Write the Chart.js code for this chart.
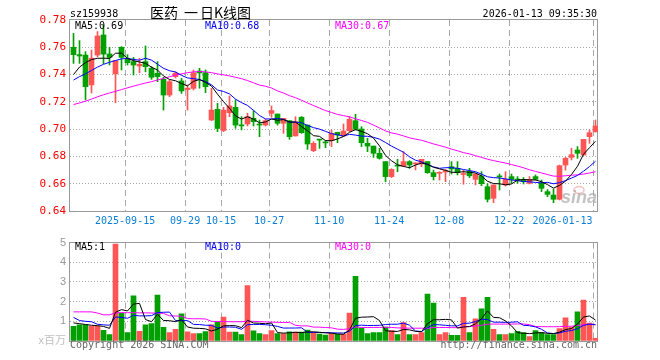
<!DOCTYPE html>
<html><head><meta charset="utf-8">
<script src="https://cdn.jsdelivr.net/npm/chart.js@4.4.1/dist/chart.umd.min.js"></script>
<style>
html,body{margin:0;padding:0;background:#fff;}
#wrap{position:relative;width:660px;height:360px;overflow:hidden;background:#fff;}
canvas{position:absolute;left:0;}
#c1{top:0}
#c2{top:232px}
</style></head><body>
<div id="wrap">
<canvas id="c1" width="660" height="232"></canvas>
<canvas id="c2" width="660" height="128"></canvas>
</div>
<script>
// ---------------- data ----------------
const stockCode = 'sz159938';
const chartTitleParts = ['医药', '一', '日K线图'];   // title: 医药 一 日K线图
const stamp = '2026-01-13 09:35:30';
const priceMaLabels = ['MA5:0.69', 'MA10:0.68', 'MA30:0.67'];
const volMaLabels = ['MA5:1', 'MA10:0', 'MA30:0'];

const dates = [
'2025-09-02','2025-09-03','2025-09-04','2025-09-05',
'2025-09-08','2025-09-09','2025-09-10','2025-09-11','2025-09-12',
'2025-09-15','2025-09-16','2025-09-17','2025-09-18','2025-09-19',
'2025-09-22','2025-09-23','2025-09-24','2025-09-25','2025-09-26',
'2025-09-29','2025-09-30','2025-10-09','2025-10-10',
'2025-10-13','2025-10-14','2025-10-15','2025-10-16','2025-10-17',
'2025-10-20','2025-10-21','2025-10-22','2025-10-23','2025-10-24',
'2025-10-27','2025-10-28','2025-10-29','2025-10-30','2025-10-31',
'2025-11-03','2025-11-04','2025-11-05','2025-11-06','2025-11-07',
'2025-11-10','2025-11-11','2025-11-12','2025-11-13','2025-11-14',
'2025-11-17','2025-11-18','2025-11-19','2025-11-20','2025-11-21',
'2025-11-24','2025-11-25','2025-11-26','2025-11-27','2025-11-28',
'2025-12-01','2025-12-02','2025-12-03','2025-12-04','2025-12-05',
'2025-12-08','2025-12-09','2025-12-10','2025-12-11','2025-12-12',
'2025-12-15','2025-12-16','2025-12-17','2025-12-18','2025-12-19',
'2025-12-22','2025-12-23','2025-12-24','2025-12-25','2025-12-26',
'2025-12-29','2025-12-30','2025-12-31',
'2026-01-05','2026-01-06','2026-01-07','2026-01-08','2026-01-09',
'2026-01-12','2026-01-13'];

const opens = [
0.7600,0.7546,0.7543,0.7324,0.7543,0.7690,0.7551,0.7405,0.7600,0.7512,
0.7495,0.7463,0.7495,0.7446,0.7410,0.7365,0.7250,0.7385,0.7353,0.7290,
0.7299,0.7426,0.7414,0.7067,0.7145,0.6990,0.7120,0.7160,0.7030,0.7038,
0.7079,0.7033,0.7030,0.7116,0.7111,0.7043,0.7062,0.6950,0.7087,0.7030,
0.6842,0.6922,0.6902,0.6916,0.6977,0.6950,0.6989,0.7062,0.7001,0.6896,
0.6876,0.6823,0.6762,0.6652,0.6731,0.6729,0.6762,0.6745,0.6745,0.6762,
0.6681,0.6676,0.6686,0.6725,0.6713,0.6667,0.6690,0.6632,0.6657,0.6578,
0.6493,0.6655,0.6591,0.6652,0.6632,0.6627,0.6603,0.6652,0.6603,0.6542,
0.6517,0.6486,0.6737,0.6793,0.6847,0.6810,0.6945,0.6982];
const highs = [
0.7702,0.7649,0.7568,0.7580,0.7715,0.7763,0.7600,0.7502,0.7605,0.7546,
0.7526,0.7519,0.7610,0.7458,0.7495,0.7380,0.7360,0.7421,0.7372,0.7324,
0.7434,0.7446,0.7434,0.7299,0.7189,0.7160,0.7243,0.7214,0.7092,0.7116,
0.7135,0.7067,0.7072,0.7170,0.7111,0.7079,0.7062,0.7091,0.7092,0.7030,
0.6908,0.6922,0.6916,0.6994,0.6977,0.7038,0.7092,0.7109,0.7018,0.6933,
0.6876,0.6859,0.6762,0.6710,0.6779,0.6835,0.6769,0.6754,0.6779,0.6762,
0.6700,0.6688,0.6705,0.6762,0.6762,0.6698,0.6713,0.6676,0.6689,0.6600,
0.6591,0.6671,0.6688,0.6671,0.6652,0.6645,0.6652,0.6664,0.6627,0.6557,
0.6561,0.6737,0.6793,0.6859,0.6872,0.6925,0.6994,0.7067];
const lows = [
0.7482,0.7482,0.7214,0.7265,0.7530,0.7480,0.7470,0.7194,0.7434,0.7470,
0.7397,0.7414,0.7420,0.7365,0.7348,0.7140,0.7238,0.7375,0.7262,0.7140,
0.7287,0.7300,0.7268,0.7062,0.6982,0.6982,0.7091,0.7006,0.6994,0.7023,
0.7023,0.6945,0.7023,0.7087,0.7030,0.6969,0.6925,0.6950,0.6969,0.6852,
0.6835,0.6859,0.6864,0.6872,0.6901,0.6945,0.6982,0.6994,0.6872,0.6835,
0.6793,0.6780,0.6615,0.6645,0.6688,0.6725,0.6713,0.6701,0.6725,0.6676,
0.6627,0.6627,0.6615,0.6671,0.6664,0.6596,0.6645,0.6591,0.6586,0.6466,
0.6461,0.6554,0.6583,0.6603,0.6603,0.6598,0.6598,0.6627,0.6542,0.6505,
0.6461,0.6481,0.6700,0.6774,0.6786,0.6810,0.6896,0.6977];
const closes = [
0.7546,0.7536,0.7311,0.7520,0.7683,0.7550,0.7526,0.7502,0.7526,0.7487,
0.7470,0.7475,0.7458,0.7380,0.7385,0.7250,0.7348,0.7410,0.7280,0.7300,
0.7414,0.7412,0.7311,0.7140,0.7005,0.7140,0.7170,0.7030,0.7024,0.7091,
0.7055,0.7030,0.7062,0.7136,0.7043,0.7079,0.6945,0.7055,0.6974,0.6891,
0.6896,0.6920,0.6899,0.6969,0.6957,0.6986,0.7072,0.6999,0.6901,0.6876,
0.6823,0.6786,0.6652,0.6705,0.6729,0.6762,0.6737,0.6752,0.6779,0.6681,
0.6652,0.6681,0.6696,0.6708,0.6681,0.6675,0.6658,0.6671,0.6600,0.6486,
0.6591,0.6650,0.6632,0.6632,0.6627,0.6615,0.6632,0.6632,0.6566,0.6522,
0.6486,0.6732,0.6786,0.6813,0.6823,0.6925,0.6974,0.7023];
// volume, millions
const volumes = [
0.74,0.82,0.82,0.76,0.76,0.54,0.33,4.92,1.42,0.43,
2.29,0.49,0.82,0.88,2.33,0.69,0.43,0.59,1.38,0.47,
0.38,0.38,0.48,0.82,0.95,1.22,0.45,0.45,0.33,2.82,
0.52,0.38,0.33,0.53,0.38,0.38,0.47,0.45,0.45,0.55,
0.42,0.35,0.30,0.38,0.34,0.34,1.42,3.29,0.66,0.38,
0.43,0.43,0.71,0.53,0.33,0.93,0.33,0.33,0.43,2.38,
1.93,0.33,0.43,0.29,0.29,2.22,0.43,1.13,1.63,2.22,
0.59,0.33,0.33,0.38,0.49,0.43,0.23,0.53,0.43,0.33,
0.33,0.63,1.18,0.71,1.48,2.08,0.91,0.13];

// moving-average values for the first days (they depend on earlier sessions)
const ma5Head  = [0.7400,0.7455,0.7487,0.7510];
const ma10Head = [0.7360,0.7385,0.7405,0.7430,0.7455,0.7475,0.7490,0.7503,0.7515];
const ma30Head = [0.7180,0.7192,0.7205,0.7220,0.7237,0.7252,0.7265,0.7277,0.7290,0.7303,
                  0.7315,0.7327,0.7338,0.7348,0.7360,0.7372,0.7384,0.7396,0.7405,0.7414,
                  0.7420,0.7422,0.7420,0.7414,0.7405,0.7398,0.7390,0.7380,0.7370];
const volMa5Head  = [0.92,0.88,0.84,0.80];
const volMa10Head = [1.20,1.04,1.00,0.98,0.85,0.82,0.80,1.22,1.20];
const volMa30Head = [1.48,1.48,1.48,1.48,1.42,1.33,1.33,1.43,1.44,1.44,
                     1.44,1.43,1.43,1.42,1.42,1.40,1.28,1.27,1.26,1.14,
                     1.13,1.13,1.12,1.00,0.99,0.99,0.98,0.98,0.98];

const xTickLabels = ['2025-09-15','09-29','10-15','10-27','11-10','11-24','12-08','12-22','2026-01-13'];
const priceTicks = [0.64,0.66,0.68,0.70,0.72,0.74,0.76,0.78];
const volTicks = [0,1,2,3,4,5];
const volUnitLabel = 'x百万';
const copyright = 'Copyright 2026 SINA.COM';
const siteUrl = 'http://finance.sina.com.cn';

// ---------------- helpers ----------------
function movingAvg(src, n, head) {
  return src.map((_, i) => {
    if (i < n - 1) return head[i];
    let s = 0;
    for (let k = i - n + 1; k <= i; k++) s += src[k];
    return s / n;
  });
}
const N = dates.length;
const upColor = '#ff5555', downColor = '#00a000';
const barColors = closes.map((c, i) => c >= opens[i] ? upColor : downColor);
const ma5 = movingAvg(closes, 5, ma5Head);
const ma10 = movingAvg(closes, 10, ma10Head);
const ma30 = movingAvg(closes, 30, ma30Head);
const vma5 = movingAvg(volumes, 5, volMa5Head);
const vma10 = movingAvg(volumes, 10, volMa10Head);
const vma30 = movingAvg(volumes, 30, volMa30Head);

// x ticks: grid line at each labelled session; the last label sits left of its line
const X_TICKS = [];
xTickLabels.forEach((lbl, k) => {
  const i = dates.findIndex(d => d.endsWith(lbl));
  if (k === xTickLabels.length - 1) {
    X_TICKS.push({value: i - 5.5, label: lbl, grid: false});
    X_TICKS.push({value: i - 0.4, label: '', grid: true});
  } else {
    X_TICKS.push({value: i - 0.4, label: lbl, grid: true});
  }
});

const MONO = '"DejaVu Sans Mono", "Liberation Mono", monospace';

function xScale(showLabels, height) {
  return {
    type: 'linear', min: -0.5 - 1/12, max: N - 0.5 - 1/12, offset: false,
    afterBuildTicks: s => { s.ticks = X_TICKS.map(t => ({value: t.value})); },
    afterFit: s => { s.height = height; },
    ticks: {
      display: showLabels, autoSkip: false, maxRotation: 0, minRotation: 0, padding: 4,
      color: '#0b7fd6', font: {family: MONO, size: 10},
      callback: (v, i) => X_TICKS[i] ? X_TICKS[i].label : ''
    },
    grid: {
      offset: false, drawTicks: false, lineWidth: 1,
      color: c => (X_TICKS[c.index] && X_TICKS[c.index].grid) ? '#a8a8a8' : 'rgba(0,0,0,0)'
    },
    border: {display: false, dash: [6, 4]}
  };
}

function frame(color) {
  return {
    id: 'frame',
    beforeDatasetsDraw(chart) {
      const {ctx, chartArea: a} = chart;
      ctx.save();
      ctx.strokeStyle = color; ctx.lineWidth = 1;
      const l = Math.round(a.left) - 0.5, t = Math.round(a.top) - 0.5;
      const r = Math.round(a.right) - 0.5, b = Math.round(a.bottom) + 0.5;
      ctx.strokeRect(l, t, r - l, b - t);
      ctx.restore();
    }
  };
}

const pts = arr => arr.map((v, i) => ({x: i, y: v}));

// ---------------- price chart ----------------
const textsTop = {
  id: 'textsTop',
  beforeDatasetsDraw(chart) {
    const ctx = chart.ctx;
    ctx.save();
    ctx.font = 'italic bold 18px "Liberation Sans", Arial, sans-serif';
    ctx.fillStyle = 'rgba(175,175,175,0.75)';
    ctx.textAlign = 'right'; ctx.textBaseline = 'alphabetic';
    ctx.fillText('sina', 597, 203);
    ctx.strokeStyle = 'rgba(235,140,140,0.55)'; ctx.lineWidth = 1.5;
    ctx.beginPath(); ctx.ellipse(579, 190, 5, 3.5, 0, 0, Math.PI * 2); ctx.stroke();
    ctx.restore();
  },
  afterDraw(chart) {
    const ctx = chart.ctx;
    ctx.save();
    ctx.font = '10px ' + MONO; ctx.textBaseline = 'alphabetic';
    ctx.fillStyle = '#000'; ctx.textAlign = 'left';
    ctx.fillText(stockCode, 70, 16.5);
    ctx.textAlign = 'right';
    ctx.fillText(stamp, 597, 16.5);
    ctx.textAlign = 'left';
    ctx.fillStyle = '#000'; ctx.fillText(priceMaLabels[0], 75, 29);
    ctx.fillStyle = '#0000ff'; ctx.fillText(priceMaLabels[1], 205, 29);
    ctx.fillStyle = '#ff00ff'; ctx.fillText(priceMaLabels[2], 335, 29);
    ctx.font = '14px "Noto Sans CJK SC", sans-serif';
    ctx.fillStyle = '#000'; ctx.textBaseline = 'middle';
    const titleX = [150, 184, 200];
    chartTitleParts.forEach((p, k) => ctx.fillText(p, titleX[k], 13));
    ctx.restore();
  }
};

new Chart(document.getElementById('c1'), {
  type: 'bar',
  data: {
    datasets: [
      {type: 'line', data: pts(ma5), borderColor: '#000000', borderWidth: 1, pointRadius: 0, order: 0},
      {type: 'line', data: pts(ma10), borderColor: '#0000ff', borderWidth: 1, pointRadius: 0, order: 0},
      {type: 'line', data: pts(ma30), borderColor: '#ff00ff', borderWidth: 1, pointRadius: 0, order: 0},
      {type: 'bar', data: dates.map((d, i) => ({x: i, y: [opens[i], closes[i]]})),
       backgroundColor: barColors, barThickness: 5, minBarLength: 1, grouped: false, order: 1},
      {type: 'bar', data: dates.map((d, i) => ({x: i, y: [lows[i], highs[i]]})),
       backgroundColor: barColors, barThickness: 1, grouped: false, order: 2}
    ]
  },
  options: {
    responsive: false, animation: false, devicePixelRatio: 1, events: [],
    layout: {padding: {left: 0, right: 62, top: 20, bottom: 0}},
    plugins: {legend: {display: false}, tooltip: {enabled: false}},
    scales: {
      x: xScale(true, 21),
      y: {
        type: 'linear', min: priceTicks[0], max: priceTicks[priceTicks.length - 1],
        afterBuildTicks: s => { s.ticks = priceTicks.map(v => ({value: v})); },
        afterFit: s => { s.width = 70; },
        ticks: {color: '#ff0000', padding: 4, font: {family: MONO, size: 11}, callback: v => v.toFixed(2)},
        grid: {drawTicks: false, lineWidth: 1,
               color: c => (c.index === 0 || c.index === priceTicks.length - 1) ? 'rgba(0,0,0,0)' : '#a8a8a8'},
        border: {display: false, dash: [1, 2]}
      }
    }
  },
  plugins: [frame('#999999'), textsTop]
});

// ---------------- volume chart ----------------
const textsBottom = {
  id: 'textsBottom',
  afterDraw(chart) {
    const ctx = chart.ctx;
    ctx.save();
    ctx.font = '10px ' + MONO; ctx.textBaseline = 'alphabetic'; ctx.textAlign = 'left';
    ctx.fillStyle = '#000'; ctx.fillText(volMaLabels[0], 75, 18);
    ctx.fillStyle = '#0000ff'; ctx.fillText(volMaLabels[1], 205, 18);
    ctx.fillStyle = '#ff00ff'; ctx.fillText(volMaLabels[2], 335, 18);
    ctx.fillStyle = '#666';
    ctx.fillText(copyright, 70, 116);
    ctx.textAlign = 'right';
    ctx.fillText(siteUrl, 597, 116);
    ctx.restore();
  }
};

new Chart(document.getElementById('c2'), {
  type: 'bar',
  data: {
    datasets: [
      {type: 'line', data: pts(vma5), borderColor: '#000000', borderWidth: 1, pointRadius: 0, order: 0},
      {type: 'line', data: pts(vma10), borderColor: '#0000ff', borderWidth: 1, pointRadius: 0, order: 0},
      {type: 'line', data: pts(vma30), borderColor: '#ff00ff', borderWidth: 1, pointRadius: 0, order: 0},
      {type: 'bar', data: pts(volumes), backgroundColor: barColors, barThickness: 5, grouped: false, order: 1}
    ]
  },
  options: {
    responsive: false, animation: false, devicePixelRatio: 1, events: [],
    layout: {padding: {left: 0, right: 62, top: 8, bottom: 0}},
    plugins: {legend: {display: false}, tooltip: {enabled: false}},
    scales: {
      x: xScale(false, 19),
      y: {
        type: 'linear', min: volTicks[0], max: volTicks[volTicks.length - 1],
        afterBuildTicks: s => { s.ticks = volTicks.map(v => ({value: v})); },
        afterFit: s => { s.width = 70; },
        ticks: {
          padding: 4,
          color: c => c.index === 0 ? '#c0c0c0' : '#999999',
          font: {family: '"Liberation Sans", Arial, "Noto Sans CJK SC", sans-serif', size: 11},
          callback: v => v === 0 ? volUnitLabel : String(v)
        },
        grid: {drawTicks: false, lineWidth: 1,
               color: c => (c.index === 0 || c.index === volTicks.length - 1) ? 'rgba(0,0,0,0)' : '#a8a8a8'},
        border: {display: false, dash: [1, 2]}
      }
    }
  },
  plugins: [frame('#999999'), textsBottom]
});
</script>
</body></html>
